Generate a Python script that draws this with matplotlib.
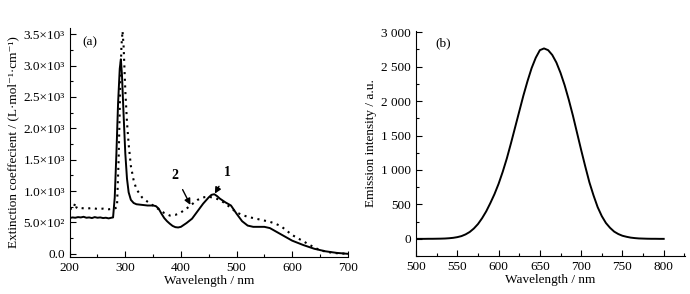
import numpy as np
import matplotlib.pyplot as plt
from matplotlib.ticker import MultipleLocator

plt.rcParams['font.family'] = ['Liberation Serif', 'DejaVu Serif']
plt.rcParams['font.size'] = 9.5

# (a) absorption spectra, curve 1 (solid) and curve 2 (dotted)
wl1 = [200, 205, 210, 215, 220, 225, 230, 235, 240, 245, 250, 255, 260, 265, 270, 275, 278,
       281, 284, 287, 290, 292, 294, 297, 300, 303, 306, 310, 315, 320, 330, 340, 350, 355,
       360, 365, 370, 375, 380, 385, 390, 395, 400, 410, 420, 430, 440, 450, 455, 460, 465,
       470, 480, 490, 500, 510, 520, 530, 540, 550, 560, 570, 580, 590, 600, 620, 640, 660,
       680, 700]
abs1 = [570, 580, 575, 585, 580, 590, 575, 580, 570, 585, 575, 580, 570, 575, 565, 575, 580,
        900, 1600, 2400, 2950, 3100, 2850, 2200, 1600, 1200, 980, 860, 810, 790, 780, 770, 770, 760,
        720, 640, 570, 520, 480, 445, 425, 420, 430, 490, 560, 680, 800, 900, 940, 950, 920,
        880, 820, 770, 640, 520, 450, 430, 430, 430, 410, 360, 310, 260, 210, 140, 80, 40,
        15, 0]

wl2 = [200, 205, 208, 210, 212, 215, 220, 230, 240, 250, 260, 270, 280, 285, 288, 291, 293,
       295, 297, 300, 303, 306, 310, 315, 320, 330, 340, 350, 360, 370, 380, 390, 400, 410,
       420, 430, 440, 450, 460, 470, 480, 490, 500, 510, 520, 530, 540, 550, 560, 570, 580,
       590, 600, 610, 620, 630, 640, 650, 660, 670, 680, 690, 700]
abs2 = [720, 710, 760, 810, 740, 720, 730, 720, 730, 715, 720, 710, 720, 740, 1500, 2700, 3300,
        3550, 3300, 2600, 2100, 1750, 1400, 1170, 1030, 900, 830, 770, 710, 650, 610, 620, 660, 720,
        790, 860, 900, 910, 890, 860, 800, 730, 660, 620, 590, 570, 550, 530, 510, 480, 440,
        370, 300, 250, 200, 150, 100, 60, 35, 20, 10, 5, 0]

# (b) emission spectrum
wl_em = [500, 505, 510, 515, 520, 525, 530, 535, 540, 545, 550, 555, 560, 565, 570, 575, 580,
         585, 590, 595, 600, 605, 610, 615, 620, 625, 630, 635, 640, 645, 650, 655, 660, 665,
         670, 675, 680, 685, 690, 695, 700, 705, 710, 715, 720, 725, 730, 735, 740, 745, 750,
         755, 760, 765, 770, 775, 780, 785, 790, 795, 800]
em = [0, 0, 0, 1, 1, 2, 3, 5, 9, 15, 25, 40, 65, 100, 150, 215, 300,
      400, 520, 650, 800, 975, 1170, 1390, 1620, 1850, 2080, 2290, 2480, 2630, 2740, 2765, 2740, 2670,
      2560, 2410, 2230, 2020, 1790, 1540, 1290, 1050, 820, 630, 460, 330, 230, 160, 105, 70, 45,
      30, 18, 11, 6, 4, 2, 1, 1, 0, 0]

yt_a = [0, 500, 1000, 1500, 2000, 2500, 3000, 3500]
yl_a = ['0.0', '5.0×10²', '1.0×10³', '1.5×10³', '2.0×10³', '2.5×10³', '3.0×10³', '3.5×10³']
yt_b = [0, 500, 1000, 1500, 2000, 2500, 3000]
yl_b = ['0', '500', '1 000', '1 500', '2 000', '2 500', '3 000']

fig = plt.figure(figsize=(6.9, 2.94), dpi=100)
ax1 = fig.add_axes([0.101, 0.126, 0.403, 0.779])
ax2 = fig.add_axes([0.603, 0.129, 0.390, 0.766])

for ax in (ax1, ax2):
    ax.spines['top'].set_visible(False)
    ax.spines['right'].set_visible(False)
    ax.tick_params(which='both', direction='in', width=0.8)
    ax.tick_params(which='major', length=4)
    ax.tick_params(which='minor', length=2.5)

ax1.plot(wl1, abs1, color='black', lw=1.4)
ax1.plot(wl2, abs2, color='black', lw=1.5, linestyle=(0, (1, 2.2)))
ax1.set_xlim(200, 700)
ax1.set_ylim(-50, 3600)
ax1.set_xticks([200, 300, 400, 500, 600, 700])
ax1.xaxis.set_minor_locator(MultipleLocator(50))
ax1.set_yticks(yt_a)
ax1.set_yticklabels(yl_a)
ax1.yaxis.set_minor_locator(MultipleLocator(250))
ax1.set_xlabel('Wavelength / nm', labelpad=1)
ax1.set_ylabel('Extinction coeffecient / (L·mol⁻¹·cm⁻¹)', labelpad=3)
ax1.text(222, 3330, '(a)', fontsize=9.5)
arrow = dict(arrowstyle='-|>', color='black', lw=1.0, mutation_scale=9, shrinkA=4, shrinkB=0)
ax1.annotate('2', xy=(417, 780), xytext=(390, 1250), fontsize=10, fontweight='bold',
             ha='center', va='center', arrowprops=arrow)
ax1.annotate('1', xy=(461, 960), xytext=(483, 1300), fontsize=10, fontweight='bold',
             ha='center', va='center', arrowprops=arrow)

ax2.plot(wl_em, em, color='black', lw=1.4)
ax2.set_xlim(500, 826)
ax2.set_ylim(-250, 3020)
ax2.set_xticks([500, 550, 600, 650, 700, 750, 800])
ax2.xaxis.set_minor_locator(MultipleLocator(25))
ax2.set_yticks(yt_b)
ax2.set_yticklabels(yl_b)
ax2.yaxis.set_minor_locator(MultipleLocator(250))
ax2.set_xlabel('Wavelength / nm', labelpad=1)
ax2.set_ylabel('Emission intensity / a.u.', labelpad=3)
ax2.text(523, 2800, '(b)', fontsize=9.5)

fig.savefig('out.png', dpi=100)
